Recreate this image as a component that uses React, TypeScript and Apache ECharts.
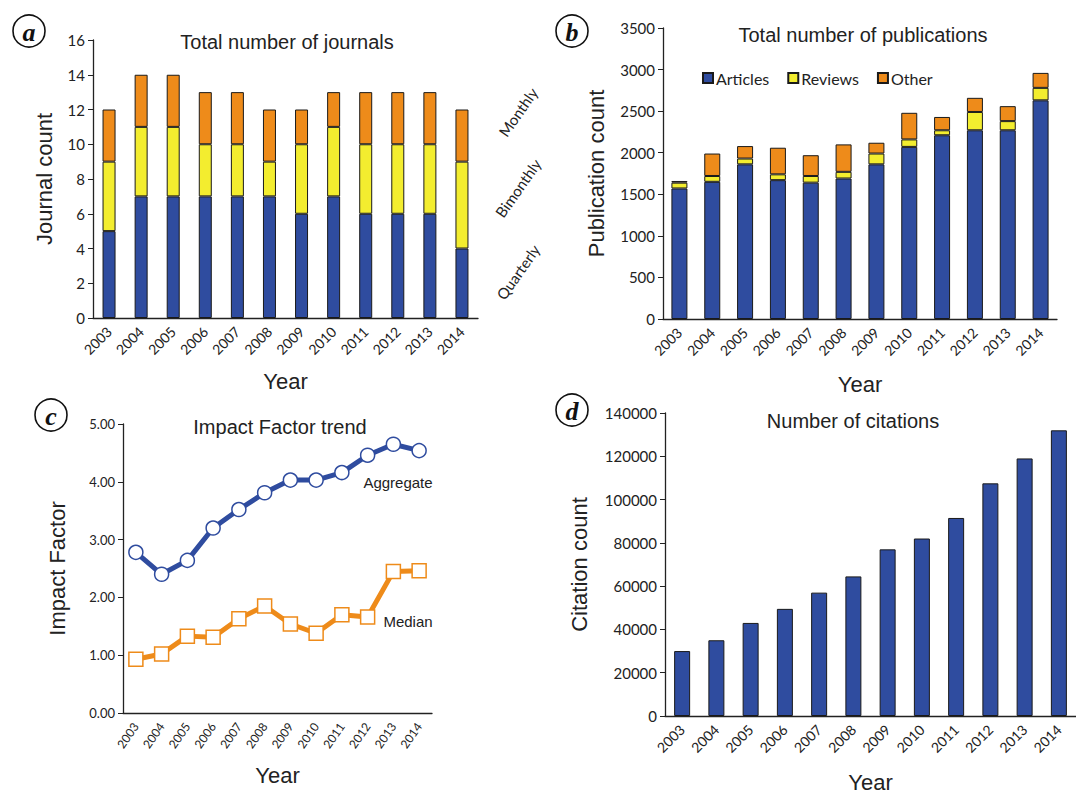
import React, { useEffect, useRef } from "react";
import * as echarts from "echarts";

const years = ["2003", "2004", "2005", "2006", "2007", "2008", "2009", "2010", "2011", "2012", "2013", "2014"];

// Panel a: journals by frequency
const journalsQuarterly = [5, 7, 7, 7, 7, 7, 6, 7, 6, 6, 6, 4];
const journalsBimonthly = [4, 4, 4, 3, 3, 2, 4, 4, 4, 4, 4, 5];
const journalsMonthly = [3, 3, 3, 3, 3, 3, 2, 2, 3, 3, 3, 3];

// Panel b: publications
const pubArticles = [1570, 1650, 1860, 1670, 1640, 1690, 1860, 2070, 2210, 2270, 2270, 2630];
const pubReviews = [70, 70, 70, 70, 80, 80, 130, 90, 60, 220, 110, 150];
const pubOther = [20, 270, 150, 320, 250, 330, 130, 320, 160, 170, 180, 180];

// Panel c: impact factor
const ifAggregate = [2.78, 2.4, 2.64, 3.2, 3.52, 3.81, 4.03, 4.03, 4.16, 4.46, 4.65, 4.54];
const ifMedian = [0.93, 1.02, 1.33, 1.31, 1.63, 1.85, 1.54, 1.38, 1.7, 1.66, 2.45, 2.46];

// Panel d: citations
const citations = [30000, 35000, 43000, 49500, 57000, 64500, 77000, 82000, 91500, 107500, 119000, 132000];

const BLUE = "#2f4c9f";
const YELLOW = "#f3ed2f";
const ORANGE = "#ee8b1a";
const DARK = "#222";
const SANS = "'Liberation Sans', Arial, sans-serif";
const TICKF = "Lato, 'Open Sans', sans-serif";

function xAxisDef(gridIndex: number, opts: any = {}) {
  return {
    type: "category",
    gridIndex,
    data: years,
    boundaryGap: true,
    axisLine: { lineStyle: { color: DARK, width: 1.3 } },
    axisTick: { alignWithLabel: true, length: 4, lineStyle: { color: DARK } },
    axisLabel: {
      rotate: opts.rotate ?? 45,
      fontSize: opts.fontSize ?? 14,
      color: DARK,
      fontFamily: TICKF,
      margin: 11,
      interval: 0,
    },
    name: "Year",
    nameLocation: "middle",
    nameGap: opts.nameGap ?? 52,
    nameTextStyle: { fontSize: 22, fontFamily: SANS, color: DARK },
  };
}

function yAxisDef(gridIndex: number, name: string, max: number, interval: number, nameGap: number, opts: any = {}) {
  return {
    type: "value",
    gridIndex,
    min: 0,
    max,
    interval,
    axisLine: { show: true, lineStyle: { color: DARK, width: 1.3 } },
    axisTick: { show: true, length: 5, lineStyle: { color: DARK } },
    splitLine: { show: false },
    axisLabel: {
      fontSize: opts.fontSize ?? 15,
      color: DARK,
      fontFamily: TICKF,
      margin: 8,
      formatter: opts.formatter ?? ((v: number) => String(v)),
    },
    name,
    nameLocation: "middle",
    nameGap,
    nameTextStyle: { fontSize: 22, fontFamily: SANS, color: DARK },
  };
}

function bar(name: string, data: number[], color: string, idx: number, stack: string | undefined, width: number) {
  return {
    type: "bar",
    name,
    data,
    stack,
    xAxisIndex: idx,
    yAxisIndex: idx,
    barWidth: width,
    itemStyle: { color, borderColor: "#1a1a1a", borderWidth: 1 },
  };
}

function letter(ch: string, cx: number, cy: number) {
  return {
    type: "group",
    children: [
      { type: "circle", shape: { cx, cy, r: 16 }, style: { fill: "#fff", stroke: "#111", lineWidth: 1.6 } },
      {
        type: "text",
        x: cx,
        y: cy + 1,
        style: {
          text: ch,
          font: "italic bold 26px 'Liberation Serif', 'DejaVu Serif', serif",
          fill: "#111",
          textAlign: "center",
          textVerticalAlign: "middle",
        },
      },
    ],
  };
}

function label(text: string, x: number, y: number, font: string, rotation = 0) {
  return {
    type: "text",
    x,
    y,
    rotation,
    style: { text, font, fill: DARK, textAlign: "center", textVerticalAlign: "middle" },
  };
}

export default function App() {
  const ref = useRef<HTMLDivElement>(null);
  useEffect(() => {
    if (!ref.current) return;
    const chart = echarts.init(ref.current, undefined, { renderer: "svg" });
    const rot = (55 * Math.PI) / 180;
    const option: any = {
      animation: false,
      backgroundColor: "#fff",
      grid: [
        { left: 93, top: 40, width: 385, height: 278 },
        { left: 663, top: 28, width: 394, height: 291 },
        { left: 123, top: 424, width: 309, height: 289 },
        { left: 665, top: 413, width: 422, height: 304 },
      ],
      xAxis: [
        xAxisDef(0, { nameGap: 52 }),
        xAxisDef(1, { nameGap: 54 }),
        xAxisDef(2, { rotate: 55, fontSize: 12, nameGap: 51 }),
        xAxisDef(3, { nameGap: 55 }),
      ],
      yAxis: [
        yAxisDef(0, "Journal count", 16, 2, 38),
        yAxisDef(1, "Publication count", 3500, 500, 56),
        yAxisDef(2, "Impact Factor", 5, 1, 55, { fontSize: 13, formatter: (v: number) => v.toFixed(2) }),
        yAxisDef(3, "Citation count", 140000, 20000, 75),
      ],
      legend: {
        data: ["Articles", "Reviews", "Other"],
        left: 697,
        top: 65,
        icon: "rect",
        itemWidth: 10,
        itemHeight: 10,
        itemGap: 18,
        textStyle: { fontSize: 16, fontFamily: TICKF, color: DARK, padding: [0, 0, 0, -2] },
      },
      series: [
        bar("Quarterly", journalsQuarterly, BLUE, 0, "a", 13),
        bar("Bimonthly", journalsBimonthly, YELLOW, 0, "a", 13),
        bar("Monthly", journalsMonthly, ORANGE, 0, "a", 13),
        bar("Articles", pubArticles, BLUE, 1, "b", 16),
        bar("Reviews", pubReviews, YELLOW, 1, "b", 16),
        bar("Other", pubOther, ORANGE, 1, "b", 16),
        {
          type: "line",
          name: "Aggregate",
          data: ifAggregate,
          xAxisIndex: 2,
          yAxisIndex: 2,
          symbol: "circle",
          symbolSize: 14,
          lineStyle: { color: BLUE, width: 5 },
          itemStyle: { color: "#fff", borderColor: BLUE, borderWidth: 1.5 },
          z: 3,
        },
        {
          type: "line",
          name: "Median",
          data: ifMedian,
          xAxisIndex: 2,
          yAxisIndex: 2,
          symbol: "rect",
          symbolSize: 14,
          lineStyle: { color: ORANGE, width: 5 },
          itemStyle: { color: "#fff", borderColor: ORANGE, borderWidth: 1.5 },
          z: 3,
        },
        bar("Citations", citations, BLUE, 3, undefined, 16),
      ],
      graphic: [
        letter("a", 29, 31),
        letter("b", 572, 31),
        letter("c", 51, 415),
        letter("d", 572, 410),
        label("Total number of journals", 287, 42, `20px ${SANS}`),
        label("Total number of publications", 863, 35, `20px ${SANS}`),
        label("Impact Factor trend", 280, 427, `20px ${SANS}`),
        label("Number of citations", 853, 421, `20px ${SANS}`),
        label("Monthly", 518, 112, `15px ${TICKF}`, rot),
        label("Bimonthly", 518, 188, `15px ${TICKF}`, rot),
        label("Quarterly", 518, 272, `15px ${TICKF}`, rot),
        label("Aggregate", 398, 482, `15px ${SANS}`),
        label("Median", 408, 621, `15px ${SANS}`),
      ],
    };
    chart.setOption(option);
    return () => chart.dispose();
  }, []);
  return (
    <div
      ref={ref}
      style={{ position: "absolute", left: 0, top: 0, width: 1076, height: 794, overflow: "hidden" }}
    />
  );
}
